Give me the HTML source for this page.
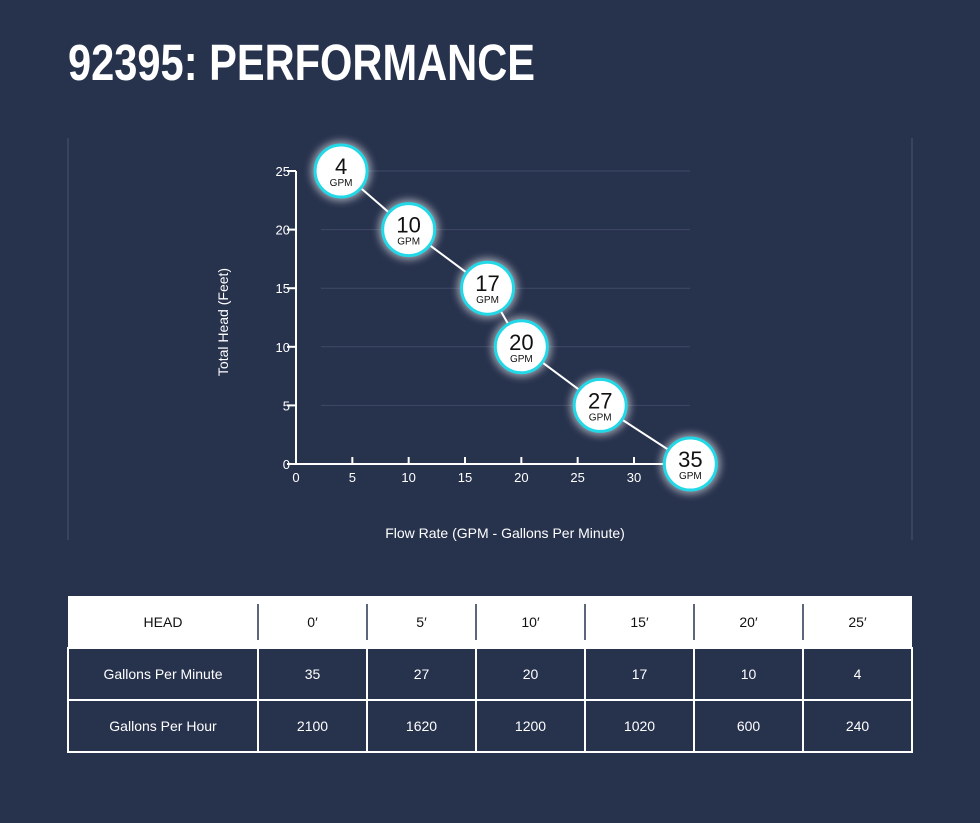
<!DOCTYPE html>
<html><head><meta charset="utf-8"><style>
html,body{margin:0;padding:0;background:#27324d;}
svg{display:block;font-family:"Liberation Sans",sans-serif;}
</style></head><body>
<svg id="c" width="980" height="823" viewBox="0 0 980 823">
<defs><filter id="glow" x="-50%" y="-50%" width="200%" height="200%"><feGaussianBlur stdDeviation="4"/></filter></defs>
<rect width="980" height="823" fill="#27324d"/>
<text x="68" y="80" font-size="51" font-weight="bold" fill="#fff" textLength="467" lengthAdjust="spacingAndGlyphs">92395: PERFORMANCE</text>
<line x1="68" y1="138" x2="68" y2="540" stroke="#4a5570" stroke-width="1"/>
<line x1="912" y1="138" x2="912" y2="540" stroke="#4a5570" stroke-width="1"/>
<g id="grid"></g>
<g id="axes"></g>
<g id="series"></g>
<text x="228" y="322" transform="rotate(-90 228 322)" text-anchor="middle" font-size="14" fill="#fff">Total Head (Feet)</text>
<text x="505" y="538" text-anchor="middle" font-size="14" fill="#fff">Flow Rate (GPM - Gallons Per Minute)</text>
<g id="table"></g>
</svg>
<script>
const flowValues=[4,10,17,20,27,35];
const headValues=[25,20,15,10,5,0];
const xTicks=[0,5,10,15,20,25,30];
const yTicks=[0,5,10,15,20,25];
const tableHeads=["0′","5′","10′","15′","20′","25′"];
const tableGpm=["35","27","20","17","10","4"];
const tableGph=["2100","1620","1200","1020","600","240"];

const NS="http://www.w3.org/2000/svg";
function mk(tag,attrs,parent,text){const e=document.createElementNS(NS,tag);for(const k in attrs)e.setAttribute(k,attrs[k]);if(text!==undefined)e.textContent=text;parent.appendChild(e);return e;}
const xS=v=>296+v*(634-296)/30;
const yS=v=>464-v*(464-171)/25;
const grid=document.getElementById('grid'),axes=document.getElementById('axes'),series=document.getElementById('series');
yTicks.forEach(t=>{
  if(t>0){const g=mk('line',{x1:xS(0)+25,x2:690,y1:yS(t),y2:yS(t),stroke:'#3f4a66','stroke-width':1},grid);
  
  }
  const tk=mk('line',{x1:xS(0)-9,x2:xS(0),y1:yS(t),y2:yS(t),stroke:'#fff','stroke-width':2},axes);
  
  
  const lb=mk('text',{x:xS(0)-6,y:yS(t)+5,'text-anchor':'end','font-size':13,fill:'#fff'},axes,String(t));
  
  
});
xTicks.forEach(t=>{
  const tk=mk('line',{x1:xS(t),x2:xS(t),y1:yS(0),y2:yS(0)-7,stroke:'#fff','stroke-width':2},axes);
  
  
  const lb=mk('text',{x:xS(t),y:yS(0)+18,'text-anchor':'middle','font-size':13,fill:'#fff'},axes,String(t));
  
  
});
const ya=mk('line',{x1:xS(0),x2:xS(0),y1:yS(25),y2:yS(0)+1,stroke:'#fff','stroke-width':2},axes);


const xa=mk('line',{x1:xS(0)-1,x2:xS(35),y1:yS(0),y2:yS(0),stroke:'#fff','stroke-width':2},axes);


const pts=flowValues.map((f,i)=>xS(f)+','+yS(headValues[i])).join(' ');
const pl=mk('polyline',{points:pts,fill:'none',stroke:'#fff','stroke-width':2},series);


flowValues.forEach((f,i)=>{
  const cx=xS(f),cy=yS(headValues[i]);
  const g=mk('g',{},series);
  
  
  mk('circle',{cx,cy,r:30,fill:'#ffffff',opacity:0.55,filter:'url(#glow)'},g);
  mk('circle',{cx,cy,r:26,fill:'#fff',stroke:'#22d8e6','stroke-width':3},g);
  mk('text',{x:cx,y:cy+3,'text-anchor':'middle','font-size':22,fill:'#111'},g,String(f));
  mk('text',{x:cx,y:cy+15,'text-anchor':'middle','font-size':10,fill:'#111'},g,'GPM');
});
// table
const tb=document.getElementById('table');
const cols=[68,258,367,476,585,694,803,912];
const rows=[596,648,700,752];
const hb=mk('rect',{x:68,y:596,width:844,height:52,fill:'#fff'},tb);


const bb=mk('rect',{x:68,y:648,width:844,height:104,fill:'#27324d',stroke:'#fff','stroke-width':2},tb);


const hl=mk('line',{x1:68,x2:912,y1:700,y2:700,stroke:'#fff','stroke-width':2},tb);


for(let c=1;c<7;c++){
  const d=mk('line',{x1:cols[c],x2:cols[c],y1:604,y2:640,stroke:'#27324d','stroke-width':1.5},tb);
  
  
  const d2=mk('line',{x1:cols[c],x2:cols[c],y1:648,y2:752,stroke:'#fff','stroke-width':2},tb);
  
  
}
const rowData=[["HEAD",...tableHeads],["Gallons Per Minute",...tableGpm],["Gallons Per Hour",...tableGph]];
rowData.forEach((r,ri)=>{
  r.forEach((v,ci)=>{
    const t=mk('text',{x:(cols[ci]+cols[ci+1])/2,y:(rows[ri]+rows[ri+1])/2+5,'text-anchor':'middle','font-size':14,fill:ri===0?'#111':'#fff'},tb,v);
    
    
  });
});
</script>
</body></html>
